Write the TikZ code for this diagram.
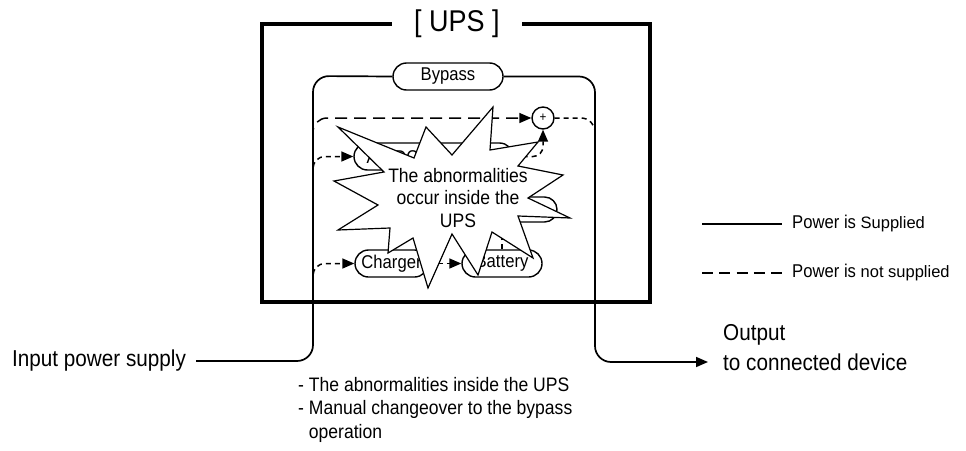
\documentclass[tikz,border=0pt]{standalone}
\usepackage{fontspec}
\setmainfont{Liberation Sans}[FakeStretch=0.9]
\newfontfamily\legBfont{Liberation Sans}
\usetikzlibrary{arrows.meta,shapes.misc}
\begin{document}
\begin{tikzpicture}[x=1pt,y=-1pt,
  pill/.style={draw, line width=1.4pt, rounded rectangle, inner sep=0pt, minimum height=27pt, font=\fontsize{18.5}{21}\selectfont},
  solidln/.style={line width=1.7pt},
  dashL/.style={line width=1.5pt, dash pattern=on 12pt off 7pt},
  dashS/.style={line width=1.5pt, dash pattern=on 5pt off 4pt},
  tip/.style={-{Triangle[length=12pt,width=10pt]}},
  txt/.style={inner sep=0pt, font=\fontsize{23}{27}\selectfont},
  legtxt/.style={anchor=west, inner sep=0pt, font=\fontsize{18.5}{22}\selectfont},
]
\useasboundingbox (0,0) rectangle (966,450);

% outer UPS frame
\node[minimum width=130pt, inner sep=0pt, font=\fontsize{30}{34}\selectfont] (ups) at (457,24) {[ UPS ]};
\draw[line width=3.2pt, line join=miter] (ups.east) -- (650,24) -- (650,302) -- (262,302) -- (262,24) -- (ups.west);

% nodes
\node[pill, minimum width=110pt] (byp) at (448,76.5) {Bypass};
\node[pill, minimum width=159pt] (acdc) at (433.5,156.5) {AC/DC\hspace*{82pt}};
\node[pill, minimum width=110pt, minimum height=25pt] (dcdc) at (502,209.5) {};
\node[pill, minimum width=73pt] (chg) at (391.5,263.5) {Charger};
\node[pill, minimum width=80pt] (bat) at (502,263.5) {Battery};
\node[draw, circle, line width=1.4pt, minimum size=22pt, inner sep=0pt, font=\fontsize{13}{13}\selectfont] (plus) at (543,118) {+};

% free ends on the inner frame
\coordinate (lt) at (313,140);
\coordinate (l1) at (313,185);
\coordinate (l3) at (313,292);
\coordinate (rt) at (595,150);

% dashed (not supplied) paths
\draw[dashL, tip, rounded corners=14pt] (lt) |- (plus.west);
\draw[dashS, rounded corners=14pt] (plus.east) -| (rt);
\draw[dashS, tip, rounded corners=12pt] (l1) |- (acdc.west);
\draw[dashS, tip, rounded corners=10pt] (acdc.east) -| (plus.south);
\draw[dashS, tip, rounded corners=12pt] (l3) |- (chg.west);
\draw[dashS, tip] (chg.east) -- (bat.west);
\draw[dashS, tip] (bat.north) -- (dcdc.south);

% input / output and solid bypass path
\node[txt, anchor=west] (inp) at (12,361) {Input power supply};
\node[txt, anchor=west] (out2) at (723,362) {to connected device};
\node[txt, anchor=west] (out1) at (723,335) {Output};
\draw[solidln, rounded corners=16pt] ([xshift=10pt]inp.east) -| (313,76) -- (byp.west);
\draw[solidln, tip, rounded corners=16pt] (byp.east) -| (595,362) -- ([xshift=-15pt]out2.west);

% legend
\node[legtxt] (lg1) at (792,224) {Power is {\legBfont\fontsize{16.5}{20}\selectfont Supplied}};
\node[legtxt] (lg2) at (792,273) {Power is {\legBfont\fontsize{16.5}{20}\selectfont not supplied}};
\coordinate (lc1) at (702,224);
\coordinate (lc2) at (702,273);
\draw[line width=1.5pt] (lc1) -- ([xshift=-10pt]lg1.west);
\draw[line width=1.5pt, dash pattern=on 11pt off 6.25pt] (lc2) -- ([xshift=-10pt]lg2.west);

% note
\node[anchor=north west, inner sep=0pt, align=left, font=\fontsize{19.5}{23.5}\selectfont] (note) at (298,377)
  {- The abnormalities inside the UPS\\- Manual changeover to the bypass\\\hphantom{- }operation};

% starburst
\draw[fill=white, line width=1.2pt, line join=miter]
  (338,127) -- (414,158) -- (426,127) -- (452,155) -- (493,107) -- (490,150) -- (538,142) -- (518,166)
  -- (563,175) -- (528,198) -- (570,218) -- (518,216) -- (533,258) -- (492,232) -- (478,275) -- (452,234)
  -- (428,288) -- (413,238) -- (388,253) -- (390,228) -- (338,230) -- (378,205) -- (334,181) -- (384,172) -- cycle;
\node[align=center, inner sep=0pt, font=\fontsize{19.5}{22.5}\selectfont] (burst) at (458,198)
  {The abnormalities\\occur inside the\\UPS};
\end{tikzpicture}
\end{document}
